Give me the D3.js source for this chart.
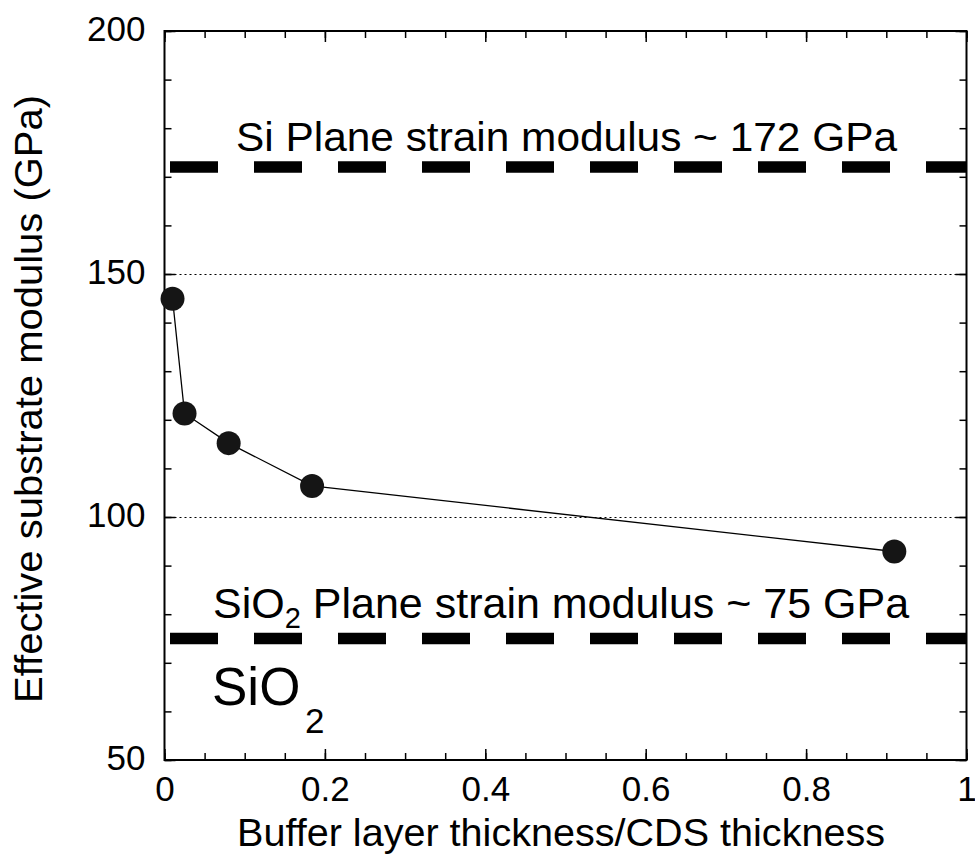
<!DOCTYPE html>
<html>
<head>
<meta charset="utf-8">
<script src="https://cdn.jsdelivr.net/npm/d3@7"></script>
<style>
  body { margin: 0; background: #fff; }
  text { font-family: "Liberation Sans", Arial, sans-serif; fill: #000; }
</style>
</head>
<body>
<svg id="chart" width="975" height="863"></svg>
<script>
// =======================
//  Data
// =======================

var ratio = [0.010, 0.025, 0.080, 0.184, 0.910];   // buffer / CDS thickness
var modulus = [144.9, 121.3, 115.2, 106.4, 92.9];  // effective substrate modulus (GPa)

var refValues = [172, 75];  // plane strain moduli (GPa)
var xTicks = [0, 0.2, 0.4, 0.6, 0.8, 1];
var yTicks = [50, 100, 150, 200];
var gridValues = [100, 150];

// =======================
//  Layout
// =======================

var plotLeft = 164.5, plotTop = 31, plotRight = 966.5, plotBottom = 760;
var svg = d3.select("#chart");

var x = d3.scaleLinear().domain([0, 1]).range([plotLeft, plotRight]);
var y = d3.scaleLinear().domain([50, 200]).range([plotBottom, plotTop]);

// dotted grid lines
svg.selectAll(".grid")
    .data(gridValues)
    .join("line")
    .attr("x1", plotLeft).attr("x2", plotRight)
    .attr("y1", d => y(d) + 0.5).attr("y2", d => y(d) + 0.5)
    .attr("stroke", "#000")
    .attr("stroke-width", 1)
    .attr("stroke-dasharray", "2,3");

// ========================
// Axes (ticks on all four sides, pointing inward)
// ========================

function styleAxis(g) {
    g.select(".domain").remove();
    g.attr("font-size", null).attr("font-family", null);
    g.selectAll(".tick line").attr("stroke", "#000").attr("stroke-width", 1.5);
    g.selectAll(".tick text")
        .style("font-size", "35px")
        .attr("fill", "#000");
}

var xMinor = d3.range(0, 21).map(i => i * 0.05);
var yMinor = d3.range(0, 16).map(i => 50 + i * 10);

// minor ticks
svg.append("g").attr("transform", `translate(0,${plotBottom})`)
    .call(d3.axisBottom(x).tickValues(xMinor).tickSize(-7).tickFormat(""))
    .call(styleAxis);
svg.append("g").attr("transform", `translate(0,${plotTop})`)
    .call(d3.axisTop(x).tickValues(xMinor).tickSize(-7).tickFormat(""))
    .call(styleAxis);
svg.append("g").attr("transform", `translate(${plotLeft},0)`)
    .call(d3.axisLeft(y).tickValues(yMinor).tickSize(-7).tickFormat(""))
    .call(styleAxis);
svg.append("g").attr("transform", `translate(${plotRight},0)`)
    .call(d3.axisRight(y).tickValues(yMinor).tickSize(-7).tickFormat(""))
    .call(styleAxis);

// major ticks with labels
svg.append("g").attr("transform", `translate(0,${plotBottom})`)
    .call(d3.axisBottom(x).tickValues(xTicks).tickSize(-11).tickPadding(16).tickFormat(d => String(d)))
    .call(styleAxis);
svg.append("g").attr("transform", `translate(0,${plotTop})`)
    .call(d3.axisTop(x).tickValues(xTicks).tickSize(-11).tickFormat(""))
    .call(styleAxis);
svg.append("g").attr("transform", `translate(${plotLeft},0)`)
    .call(d3.axisLeft(y).tickValues(yTicks).tickSize(-11).tickPadding(19))
    .call(styleAxis)
    .selectAll(".tick text").attr("dy", "0.27em");
svg.append("g").attr("transform", `translate(${plotRight},0)`)
    .call(d3.axisRight(y).tickValues(yTicks).tickSize(-11).tickFormat(""))
    .call(styleAxis);

// frame
svg.append("rect")
    .attr("x", plotLeft).attr("y", plotTop)
    .attr("width", plotRight - plotLeft).attr("height", plotBottom - plotTop)
    .attr("fill", "none")
    .attr("stroke", "#000")
    .attr("stroke-width", 2);

// ========================
// Reference lines (thick dashed)
// ========================

svg.selectAll(".ref")
    .data(refValues)
    .join("line")
    .attr("x1", plotLeft).attr("x2", plotRight)
    .attr("y1", d => y(d)).attr("y2", d => y(d))
    .attr("stroke", "#000")
    .attr("stroke-width", 11.5)
    .attr("stroke-dasharray", "48,36")
    .attr("stroke-dashoffset", 78.5);

// ========================
// Data line and markers
// ========================

var points = ratio.map((r, i) => ({x: r, y: modulus[i]}));

svg.append("path")
    .datum(points)
    .attr("fill", "none")
    .attr("stroke", "#000")
    .attr("stroke-width", 1.3)
    .attr("d", d3.line().x(d => x(d.x)).y(d => y(d.y)));

svg.selectAll(".pt")
    .data(points)
    .join("circle")
    .attr("cx", d => x(d.x))
    .attr("cy", d => y(d.y))
    .attr("r", 12)
    .attr("fill", "#151515");

// ========================
// Annotations
// ========================

svg.append("text")
    .attr("x", 236).attr("y", 151)
    .attr("textLength", 661).attr("lengthAdjust", "spacingAndGlyphs")
    .style("font-size", "41px")
    .text("Si Plane strain modulus ~ 172 GPa");

var t2 = svg.append("text")
    .attr("x", 213).attr("y", 618)
    .style("font-size", "43px");
t2.append("tspan").text("SiO");
t2.append("tspan").attr("dy", 10).style("font-size", "29px").text("2");
t2.append("tspan").attr("dy", -10).text(" Plane strain modulus ~ 75 GPa");

svg.append("text")
    .attr("x", 212).attr("y", 705)
    .style("font-size", "53px")
    .text("SiO");
svg.append("text")
    .attr("x", 305).attr("y", 733)
    .style("font-size", "35px")
    .text("2");

// axis titles
svg.append("text")
    .attr("x", (237 + 885) / 2).attr("y", 846)
    .attr("text-anchor", "middle")
    .attr("textLength", 648).attr("lengthAdjust", "spacingAndGlyphs")
    .style("font-size", "39px")
    .text("Buffer layer thickness/CDS thickness");

svg.append("text")
    .attr("transform", "translate(42,399) rotate(-90)")
    .attr("text-anchor", "middle")
    .attr("textLength", 608).attr("lengthAdjust", "spacingAndGlyphs")
    .style("font-size", "38px")
    .text("Effective substrate modulus (GPa)");
</script>
</body>
</html>
